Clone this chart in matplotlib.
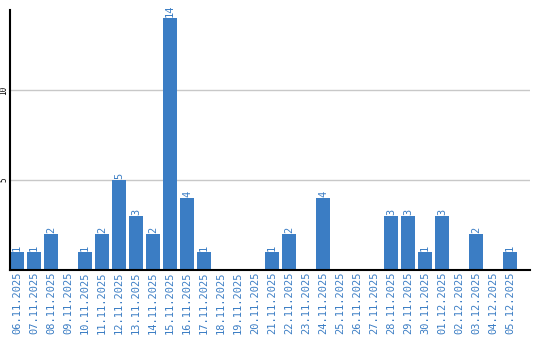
import numpy as np
import matplotlib.pyplot as plt

dates = ['06.11.2025', '07.11.2025', '08.11.2025', '09.11.2025', '10.11.2025',
         '11.11.2025', '12.11.2025', '13.11.2025', '14.11.2025', '15.11.2025',
         '16.11.2025', '17.11.2025', '18.11.2025', '19.11.2025', '20.11.2025',
         '21.11.2025', '22.11.2025', '23.11.2025', '24.11.2025', '25.11.2025',
         '26.11.2025', '27.11.2025', '28.11.2025', '29.11.2025', '30.11.2025',
         '01.12.2025', '02.12.2025', '03.12.2025', '04.12.2025', '05.12.2025']
counts = [1, 1, 2, 0, 1, 2, 5, 3, 2, 14, 4, 1, 0, 0, 0,
          1, 2, 0, 4, 0, 0, 0, 3, 3, 1, 3, 0, 2, 0, 1]
yticks = [5, 10]

blue = '#3b7dc4'

fig = plt.figure(figsize=(5.4, 3.4), dpi=100)
ax = fig.add_axes([10/540, 70/340, 520/540, 260/340])

x = np.arange(len(dates))
ax.bar(x, counts, width=14/17, color=blue, zorder=2)

# value labels on top of the bars
for xi, c in zip(x, counts):
    if c > 0:
        ax.annotate(str(c), (xi, c), xytext=(0, 1), textcoords='offset points',
                    ha='center', va='bottom', rotation=90, color=blue,
                    fontsize=7.5, family='DejaVu Sans Mono')

ax.set_xlim(-7/17, 30.18)
ax.set_ylim(0, 14.44)
ax.set_yticks(yticks)
ax.set_yticklabels([str(t) for t in yticks], rotation=90, va='center',
                   fontsize=5.5, family='DejaVu Sans Mono')
ax.set_xticks(x)
ax.set_xticklabels(dates, rotation=90, color=blue, fontsize=7.5,
                   family='DejaVu Sans Mono')
ax.tick_params(axis='both', length=0)
ax.tick_params(axis='y', pad=1)
ax.tick_params(axis='x', pad=1)
ax.grid(axis='y', color='#c8c8c8', linewidth=1, zorder=0)
for s in ['top', 'right']:
    ax.spines[s].set_visible(False)
ax.spines['left'].set_linewidth(1.5)
ax.spines['bottom'].set_linewidth(1.5)
ax.spines['left'].set_zorder(3)
ax.spines['bottom'].set_zorder(3)

fig.savefig('out.png', dpi=100)
